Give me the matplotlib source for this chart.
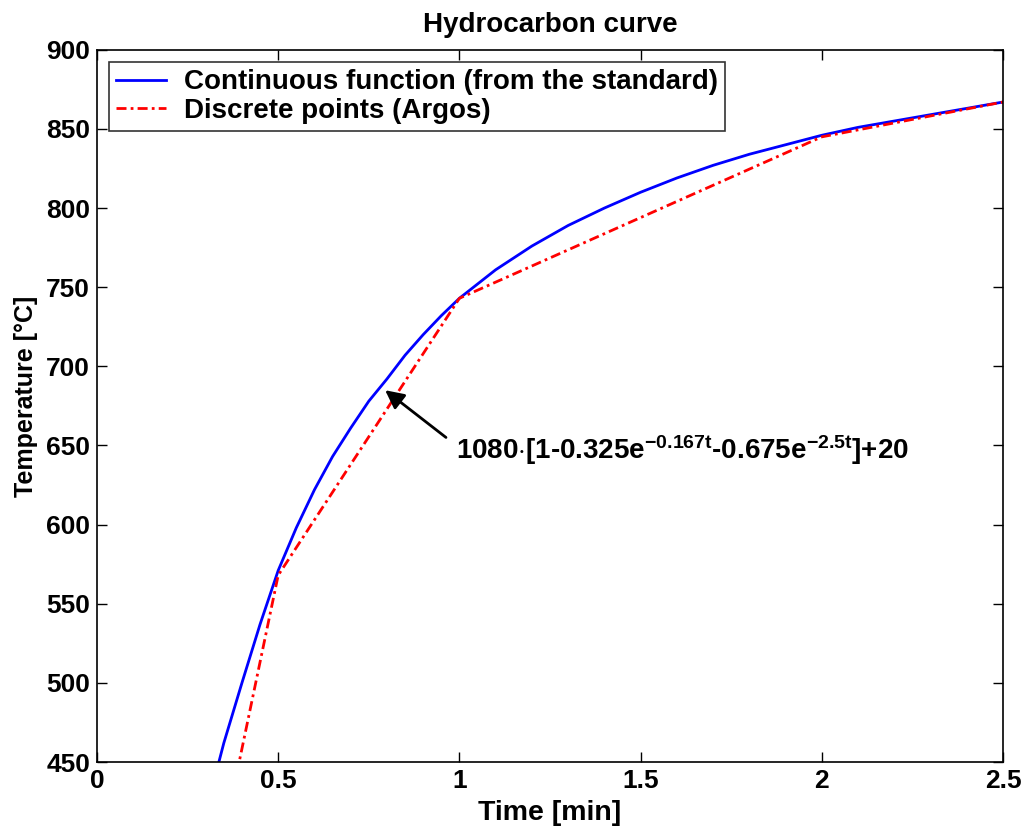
import matplotlib
matplotlib.use('Agg')
import matplotlib.pyplot as plt

plt.rcParams['font.family'] = ['Liberation Sans', 'DejaVu Sans']
plt.rcParams['font.weight'] = 'bold'
plt.rcParams['mathtext.fontset'] = 'custom'
plt.rcParams['mathtext.rm'] = 'Liberation Sans:bold'
plt.rcParams['mathtext.it'] = 'Liberation Sans:bold'
plt.rcParams['mathtext.bf'] = 'Liberation Sans:bold'

# continuous curve, values
t_cont = [0.3, 0.35, 0.4, 0.45, 0.5, 0.55, 0.6, 0.65, 0.7, 0.75, 0.8, 0.85,
          0.9, 0.95, 1.0, 1.1, 1.2, 1.3, 1.4, 1.5, 1.6, 1.7, 1.8, 1.9, 2.0,
          2.1, 2.2, 2.3, 2.4, 2.5]
temp_cont = [418, 462, 500, 537, 571, 598, 622, 643, 661, 678, 692, 707,
             720, 732, 743, 761, 776, 789, 800, 810, 819, 827, 834, 840, 846,
             851, 855, 859, 863, 867]

# discrete points (Argos)
t_disc = [0, 0.5, 1, 2, 2.5]
temp_disc = [20, 568, 743, 845, 867]

fig = plt.figure(figsize=(10.25, 8.34), dpi=100)
ax = fig.add_axes([0.0946, 0.0863, 0.884, 0.854])

ax.plot(t_cont, temp_cont, color='#0000ff', lw=2.0,
        label='Continuous function (from the standard)')
ax.plot(t_disc, temp_disc, color='#ff0000', lw=2.0, linestyle='-.',
        dashes=(3.6, 1.5, 1.0, 1.5), label='Discrete points (Argos)')

ax.set_xlim(0, 2.5)
ax.set_ylim(450, 900)
ax.set_xticks([0, 0.5, 1, 1.5, 2, 2.5])
ax.set_xticklabels(['0', '0.5', '1', '1.5', '2', '2.5'])
ax.set_yticks(range(450, 901, 50))
ax.tick_params(direction='in', length=7, width=1, top=True, right=True,
               labelsize=19, pad=5)
for s in ax.spines.values():
    s.set_linewidth(1.2)

ax.set_title('Hydrocarbon curve', fontsize=20, fontweight='bold', pad=13)
ax.set_xlabel('Time [min]', fontsize=20.5, fontweight='bold', labelpad=5)
ax.set_ylabel('Temperature [\u00b0C]', fontsize=18, fontweight='bold')
ax.yaxis.set_label_coords(-0.065, 0.513)

leg = ax.legend(loc='upper left', fontsize=20, frameon=True, fancybox=False,
                edgecolor='black', borderaxespad=0.45, handlelength=1.8,
                handletextpad=0.65, labelspacing=0.1, borderpad=0.25)
leg.get_frame().set_linewidth(1.2)

ax.annotate('', xy=(0.789, 686), xytext=(0.969, 654),
            arrowprops=dict(arrowstyle='-|>', color='black', lw=2,
                            mutation_scale=28))
ax.text(0.991, 647,
        r'1080$\cdot$[1-0.325e$^{-0.167t}$-0.675e$^{-2.5t}$]+20',
        fontsize=20, fontweight='bold', ha='left', va='center')

fig.savefig('out.png', dpi=100)
